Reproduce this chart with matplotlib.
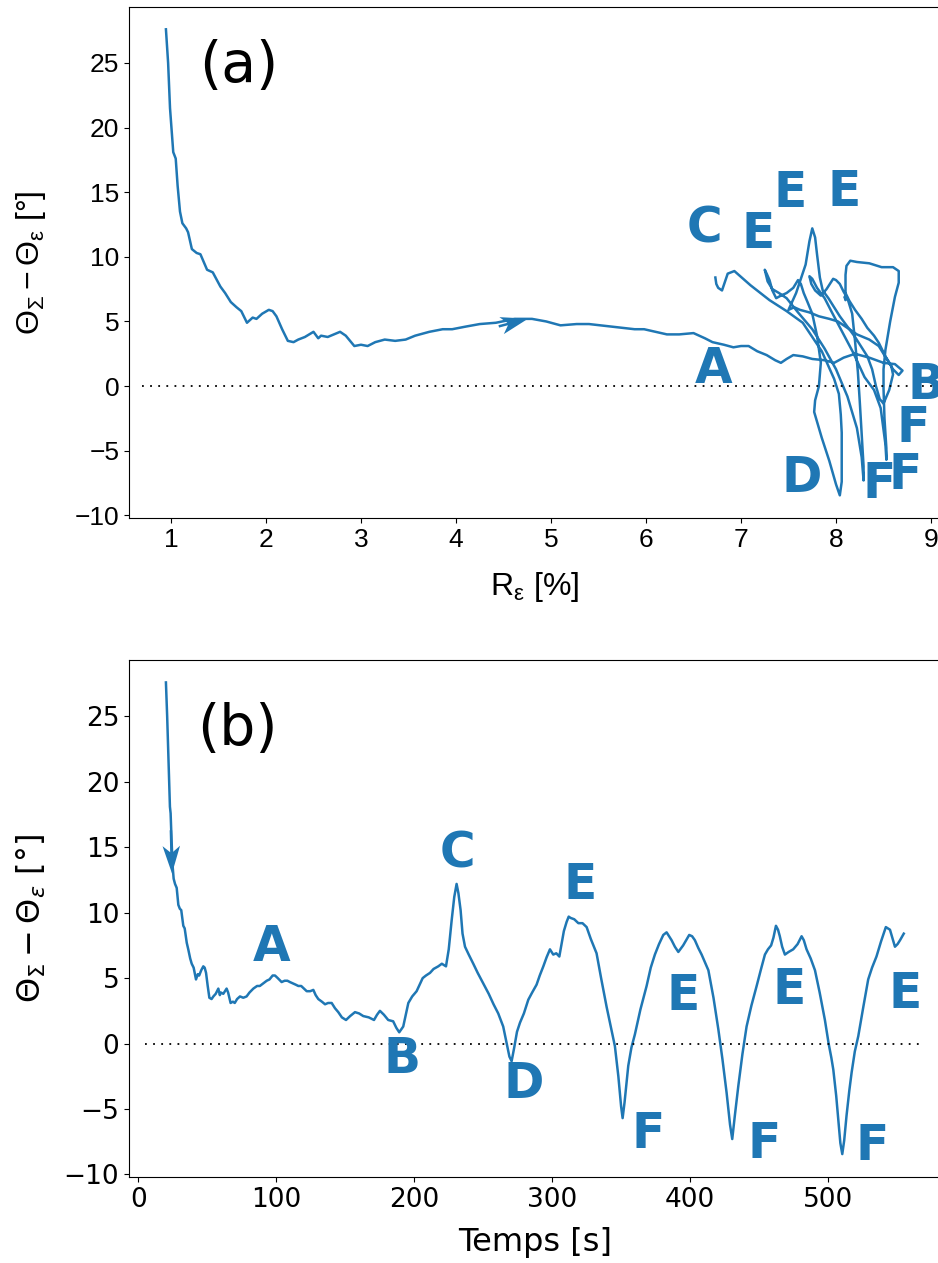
import numpy as np
import matplotlib
matplotlib.use('Agg')
import matplotlib.pyplot as plt

plt.rcParams['mathtext.fontset'] = 'custom'
plt.rcParams['mathtext.rm'] = 'Liberation Sans'
plt.rcParams['mathtext.it'] = 'Liberation Sans:italic'
plt.rcParams['mathtext.bf'] = 'Liberation Sans:bold'

# time [s], angle difference [deg], strain ratio [%]
t_s = [19.9, 20.8, 21.8, 22.8, 23.3, 24.0, 24.8, 25.5, 26.5, 27.7, 28.9, 30.0, 31.0, 32.5, 33.5,
       35.0, 36.1, 37.5, 38.6, 40.0, 41.7, 43.0, 44.0, 45.5, 47.0, 48.0, 49.0, 50.2, 51.4, 53.0,
       54.3, 56.0, 57.9, 59.0, 59.8, 61.5, 63.9, 65.0, 66.8, 68.5, 69.8, 71.5, 73.6, 76.0, 78.4,
       80.5, 83.3, 86.0, 88.0, 90.5, 93.0, 95.0, 97.3, 99.0, 101.0, 103.8, 106.0, 108.0, 109.8, 112.0,
       114.0, 115.9, 118.0, 120.0, 122.0, 124.5, 126.8, 128.5, 130.4, 133.0, 135.3, 137.5, 140.1, 142.5, 144.9,
       147.5, 150.5, 153.5, 157.0, 160.0, 163.0, 167.0, 170.8, 173.0, 175.1, 178.0, 181.1, 184.7, 187.0, 189.1,
       192.0, 195.7, 198.5, 201.7, 206.1, 208.5, 211.4, 214.0, 217.4, 220.0, 223.0, 225.0, 227.1, 229.0, 230.7,
       232.0, 233.6, 235.0, 236.8, 239.5, 242.8, 246.0, 250.0, 254.0, 257.5, 260.9, 264.5, 267.0, 269.0, 270.6,
       272.5, 274.5, 276.7, 279.5, 282.7, 285.5, 288.7, 291.0, 293.6, 296.0, 298.4, 300.8, 303.0, 305.2, 306.8,
       308.5, 310.5, 312.0, 313.4, 316.0, 319.0, 322.0, 325.0, 328.0, 332.2, 335.5, 339.5, 342.5, 345.5, 348.0,
       350.0, 351.1, 352.5, 355.2, 357.5, 360.0, 364.0, 368.5, 371.5, 374.5, 377.5, 380.6, 383.0, 386.6, 389.0,
       391.5, 395.0, 399.4, 401.5, 403.5, 406.0, 408.4, 413.3, 417.0, 420.5, 423.5, 426.5, 429.0, 430.6, 432.5,
       435.0, 438.0, 441.0, 444.5, 448.3, 451.5, 454.3, 456.5, 458.8, 460.5, 462.3, 463.8, 465.1, 466.8, 468.8,
       471.5, 474.8, 478.0, 480.9, 482.5, 484.5, 487.5, 490.6, 494.0, 497.8, 500.5, 502.5, 503.9, 506.0, 507.5,
       509.0, 510.4, 511.8, 513.5, 515.5, 517.2, 519.5, 522.0, 525.5, 529.2, 532.0, 535.2, 538.5, 542.0, 545.0,
       548.6, 550.5, 552.3, 555.0]
theta_deg = [27.6, 25.0, 21.5, 18.1, 17.6, 15.5, 13.5, 12.6, 12.2, 11.9, 10.6, 10.3, 10.2, 9.0, 8.8,
             7.7, 7.2, 6.5, 6.1, 5.8, 4.9, 5.3, 5.2, 5.6, 5.9, 5.8, 5.4, 4.4, 3.5, 3.4,
             3.6, 3.8, 4.2, 3.7, 3.9, 3.8, 4.2, 3.9, 3.1, 3.2, 3.1, 3.4, 3.6, 3.5, 3.6,
             3.9, 4.2, 4.4, 4.4, 4.6, 4.8, 4.9, 5.2, 5.2, 5.0, 4.7, 4.8, 4.8, 4.7, 4.6,
             4.5, 4.4, 4.4, 4.2, 4.0, 4.0, 4.1, 3.7, 3.4, 3.2, 3.0, 3.1, 3.1, 2.7, 2.4,
             2.0, 1.8, 2.1, 2.4, 2.3, 2.1, 2.0, 1.8, 2.2, 2.5, 2.2, 1.8, 1.7, 1.2, 0.86,
             1.3, 3.1, 3.6, 4.0, 5.0, 5.2, 5.4, 5.7, 5.9, 6.1, 5.9, 7.2, 9.4, 11.2, 12.2,
             11.5, 10.2, 8.4, 7.4, 6.8, 6.1, 5.4, 4.6, 3.8, 3.0, 2.3, 1.3, 0.0, -1.0, -1.35,
             -0.3, 0.9, 1.6, 2.3, 3.35, 3.9, 4.5, 5.2, 5.9, 6.6, 7.2, 6.8, 6.9, 6.65, 7.6,
             8.6, 9.3, 9.7, 9.6, 9.5, 9.2, 9.2, 8.9, 8.0, 6.9, 5.0, 2.8, 1.3, -0.2, -2.5,
             -4.8, -5.7, -4.5, -1.7, -0.3, 0.7, 2.6, 4.4, 5.8, 6.8, 7.6, 8.3, 8.5, 7.9, 7.4,
             7.0, 7.5, 8.3, 8.2, 7.9, 7.3, 6.8, 5.6, 3.5, 1.1, -1.2, -3.75, -6.2, -7.3, -5.5,
             -3.25, -0.8, 1.3, 2.9, 4.4, 5.7, 6.8, 7.2, 7.5, 8.1, 9.0, 8.7, 8.2, 7.4, 6.8,
             7.0, 7.2, 7.6, 8.2, 7.9, 7.2, 6.5, 5.6, 3.9, 1.8, 0.0, -1.1, -2.0, -4.0, -5.8,
             -7.6, -8.45, -7.4, -5.5, -3.6, -2.2, -0.6, 0.56, 2.7, 4.9, 5.8, 6.65, 7.8, 8.9, 8.7,
             7.4, 7.6, 7.9, 8.4]
r_eps = [0.947, 0.97, 0.99, 1.024, 1.05, 1.07, 1.095, 1.12, 1.16, 1.18, 1.22, 1.27, 1.31, 1.38, 1.44,
         1.52, 1.57, 1.63, 1.69, 1.74, 1.8, 1.86, 1.9, 1.96, 2.03, 2.07, 2.11, 2.17, 2.23, 2.29,
         2.34, 2.41, 2.5, 2.55, 2.58, 2.65, 2.78, 2.84, 2.93, 3.0, 3.07, 3.15, 3.25, 3.36, 3.47,
         3.57, 3.72, 3.86, 3.96, 4.1, 4.25, 4.42, 4.62, 4.8, 4.95, 5.1, 5.27, 5.4, 5.52, 5.64,
         5.76, 5.88, 5.98, 6.1, 6.22, 6.35, 6.5, 6.62, 6.7, 6.82, 6.92, 7.0, 7.08, 7.17, 7.27,
         7.36, 7.42, 7.48, 7.55, 7.65, 7.75, 7.88, 7.98, 8.08, 8.2, 8.35, 8.5, 8.62, 8.7, 8.66,
         8.6, 8.45, 8.35, 8.22, 8.02, 7.93, 7.82, 7.72, 7.62, 7.56, 7.5, 7.58, 7.68, 7.72, 7.75,
         7.78, 7.8, 7.83, 7.86, 7.92, 7.98, 8.04, 8.12, 8.2, 8.27, 8.33, 8.38, 8.42, 8.46, 8.5,
         8.56, 8.6, 8.58, 8.52, 8.45, 8.4, 8.33, 8.27, 8.2, 8.14, 8.1, 8.1, 8.09, 8.1, 8.1,
         8.1, 8.11, 8.15, 8.22, 8.35, 8.48, 8.6, 8.66, 8.66, 8.62, 8.57, 8.52, 8.5, 8.5, 8.51,
         8.53, 8.53, 8.52, 8.47, 8.4, 8.3, 8.18, 8.05, 7.95, 7.88, 7.8, 7.75, 7.72, 7.74, 7.78,
         7.84, 7.9, 7.97, 8.0, 8.04, 8.08, 8.12, 8.17, 8.2, 8.23, 8.25, 8.27, 8.29, 8.29, 8.27,
         8.22, 8.12, 8.0, 7.88, 7.75, 7.6, 7.48, 7.4, 7.33, 7.28, 7.25, 7.27, 7.3, 7.33, 7.37,
         7.42, 7.48, 7.55, 7.6, 7.63, 7.66, 7.7, 7.75, 7.8, 7.84, 7.82, 7.78, 7.77, 7.85, 7.93,
         8.0, 8.04, 8.06, 8.06, 8.06, 8.05, 8.03, 7.98, 7.85, 7.65, 7.48, 7.3, 7.1, 6.93, 6.86,
         6.8, 6.76, 6.74, 6.73]

# point labels
top_letters = ['C', 'E', 'E', 'E', 'A', 'B', 'F', 'D', 'F', 'F']
top_letter_r = [6.61, 7.18, 7.52, 8.09, 6.71, 8.95, 8.81, 7.64, 8.45, 8.73]
top_letter_theta = [12.2, 11.75, 14.95, 15.05, 1.3, 0.05, -3.25, -7.1, -7.6, -6.85]
bot_letters = ['A', 'B', 'C', 'D', 'E', 'E', 'E', 'E', 'F', 'F', 'F']
bot_letter_t = [96.8, 191.0, 231.5, 279.6, 320.0, 395.0, 471.7, 556.0, 369.5, 454.0, 532.0]
bot_letter_theta = [7.4, -1.2, 14.5, -3.1, 12.1, 3.6, 4.1, 3.8, -6.9, -7.7, -7.8]

blue = '#1f77b4'

fig = plt.figure(figsize=(9.38, 12.63), dpi=100)
ax1 = fig.add_axes([0.1375, 0.5899, 0.8657, 0.4048])
ax2 = fig.add_axes([0.1375, 0.0681, 0.8657, 0.4097])

# (a) theta vs strain ratio
ax1.plot(r_eps, theta_deg, color=blue, lw=1.8)
ax1.plot([0.7, 9.6], [0, 0], color='k', lw=1.3, ls=(0, (1, 3.5)))
ax1.quiver([4.45], [4.62], [0.31], [0.6], angles='xy', scale_units='xy', scale=1,
           color=blue, units='dots', width=2.5, headwidth=7, headlength=11,
           headaxislength=8.5, zorder=3)
for s, x, y in zip(top_letters, top_letter_r, top_letter_theta):
    ax1.text(x, y, s, color=blue, fontsize=35, fontweight='bold', ha='center', va='center')
ax1.text(0.135, 0.884, '(a)', transform=ax1.transAxes, fontsize=41, ha='center', va='center')
ax1.set_xlim(0.558, 9.105)
ax1.set_ylim(-10.2, 29.35)
ax1.set_xticks(range(1, 10))
ax1.set_yticks(range(-10, 30, 5))
ax1.tick_params(labelsize=19)
for lab in ax1.get_xticklabels() + ax1.get_yticklabels():
    lab.set_fontfamily('Liberation Sans')
ax1.set_xlabel(r'$\mathrm{R_{\varepsilon}}$ [%]', fontsize=23, family='Liberation Sans',
               math_fontfamily='custom')
ax1.set_ylabel(r'$\mathrm{\Theta_{\Sigma} - \Theta_{\varepsilon}}$ [°]', fontsize=23,
               family='Liberation Sans', math_fontfamily='custom')
ax1.xaxis.set_label_coords(0.5, -0.102)
ax1.yaxis.set_label_coords(-0.1, 0.5)

# (b) theta vs time
ax2.plot(t_s, theta_deg, color=blue, lw=1.8)
ax2.plot([4.7, 567.5], [0, 0], color='k', lw=1.3, ls=(0, (1, 3.5)))
ax2.quiver([23.5], [16.3], [0.8], [-3.3], angles='xy', scale_units='xy', scale=1,
           color=blue, units='dots', width=2.5, headwidth=7, headlength=11,
           headaxislength=8.5, zorder=3)
for s, x, y in zip(bot_letters, bot_letter_t, bot_letter_theta):
    ax2.text(x, y, s, color=blue, fontsize=35, fontweight='bold', ha='center', va='center')
ax2.text(0.134, 0.864, '(b)', transform=ax2.transAxes, fontsize=41, ha='center', va='center')
ax2.set_xlim(-6.9, 582)
ax2.set_ylim(-10.2, 29.35)
ax2.set_xticks(range(0, 600, 100))
ax2.set_yticks(range(-10, 30, 5))
ax2.tick_params(labelsize=19)
ax2.set_xlabel('Temps [s]', fontsize=23)
ax2.set_ylabel(r'$\Theta_{\Sigma} - \Theta_{\varepsilon}$ [°]', fontsize=23,
               math_fontfamily='dejavusans')
ax2.xaxis.set_label_coords(0.5, -0.097)
ax2.yaxis.set_label_coords(-0.1, 0.5)

fig.savefig('out.png', dpi=100)
